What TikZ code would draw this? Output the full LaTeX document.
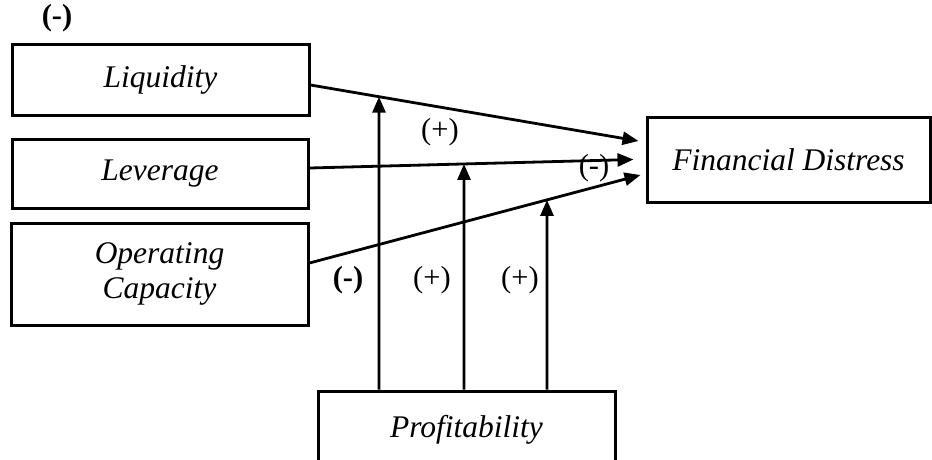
\documentclass[tikz,border=0pt]{standalone}
\usepackage{fontspec}
\setmainfont{Liberation Serif}
\usetikzlibrary{arrows.meta,intersections}
\begin{document}
\begin{tikzpicture}[x=1pt,y=-1pt,
 box/.style={draw,line width=3pt,rectangle,inner sep=0pt,font=\fontsize{31.5}{35}\selectfont\itshape,align=center},
 conn/.style={line width=2.8pt,-{Triangle[length=16pt,width=13pt]}},
 lab/.style={inner sep=0pt,font=\fontsize{30.5}{34}\selectfont},
 blab/.style={inner sep=0pt,font=\fontsize{30.5}{34}\selectfont\bfseries}]
\useasboundingbox (0,0) rectangle (932,459);
\node[box,minimum width=297pt,minimum height=71pt] (liq) at (160.5,79.5) {Liquidity};
\node[box,minimum width=296pt,minimum height=69pt] (lev) at (160,173.5) {Leverage};
\node[box,minimum width=297pt,minimum height=102pt] (opc) at (159.5,274) {Operating\\Capacity};
\node[box,minimum width=283pt,minimum height=85pt] (fd) at (788.5,159.5) {Financial Distress};
\node[box,minimum width=297pt,minimum height=78pt] (prof) at (466.5,430) {Profitability};
\coordinate (t1) at ([shift={(-7,-18.5)}]fd.west);
\coordinate (t2) at ([shift={(-12,0)}]fd.west);
\coordinate (t3) at ([shift={(-5,15.5)}]fd.west);
\draw[conn,name path=a1] ([yshift=-5.5pt]liq.east) -- (t1);
\draw[conn,name path=a2] ([yshift=5.5pt]lev.east) -- (t2);
\draw[conn,name path=a3] ([yshift=11pt]opc.east) -- (t3);
\coordinate (p1) at ([xshift=-87.5pt]prof.north);
\coordinate (p2) at ([xshift=-2.5pt]prof.north);
\coordinate (p3) at ([xshift=80.5pt]prof.north);
\path[name path=v1] (p1) -- ++(0,-400);
\path[name path=v2] (p2) -- ++(0,-400);
\path[name path=v3] (p3) -- ++(0,-400);
\path[name intersections={of=a1 and v1,by=m1}];
\path[name intersections={of=a2 and v2,by=m2}];
\path[name intersections={of=a3 and v3,by=m3}];
\draw[conn] (p1) -- (m1);
\draw[conn] (p2) -- (m2);
\draw[conn] (p3) -- (m3);
\node[blab] (l1) at (57,18) {(-)};
\node[lab] (l2) at (440,132) {(+)};
\node[lab] (l3) at (594,168) {(-)};
\node[blab] (l4) at (348,280) {(-)};
\node[lab] (l5) at (432,280) {(+)};
\node[lab] (l6) at (520,280) {(+)};
\end{tikzpicture}
\end{document}
